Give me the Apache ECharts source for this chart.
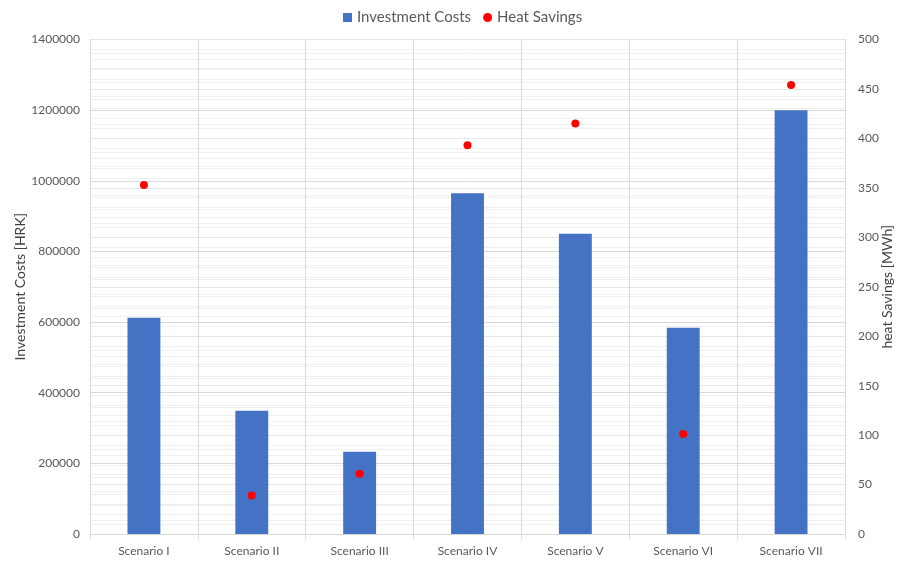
<!DOCTYPE html>
<html>
<head>
<meta charset="utf-8">
<script src="https://cdn.jsdelivr.net/npm/echarts@6/dist/echarts.min.js"></script>
<style>
  html, body { margin: 0; padding: 0; background: #fff; }
  #chart { width: 897px; height: 561px; }
</style>
</head>
<body>
<div id="chart"></div>
<script>
// Scenario categories
const scenarios = ['Scenario I', 'Scenario II', 'Scenario III', 'Scenario IV', 'Scenario V', 'Scenario VI', 'Scenario VII'];
// Investment costs per scenario [HRK]
const investmentCosts = [612000, 349000, 233000, 965000, 850000, 584000, 1200000];
// Heat savings per scenario [MWh]
const heatSavings = [353, 39, 61, 393, 415, 101, 454];

const FONT = 'Lato, "Open Sans", sans-serif';
const TEXT = '#595959';
const GRID = '#d9d9d9';
const MINOR = '#f0f0f0';

const chart = echarts.init(document.getElementById('chart'), null, { renderer: 'canvas' });

chart.setOption({
  animation: false,
  textStyle: { fontFamily: FONT },
  legend: {
    top: 5,
    left: 338,
    itemGap: 12,
    itemWidth: 9,
    itemHeight: 9,
    textStyle: { color: TEXT, fontSize: 15, fontFamily: FONT },
    data: [
      { name: 'Investment Costs', icon: 'rect' },
      { name: 'Heat Savings', icon: 'circle' }
    ]
  },
  grid: { left: 90, right: 52, top: 39.5, bottom: 27, containLabel: false, outerBoundsMode: 'none' },
  xAxis: {
    type: 'category',
    data: scenarios,
    axisLine: { show: true, lineStyle: { color: GRID } },
    axisTick: { show: true, length: 5, interval: 0, lineStyle: { color: GRID } },
    splitLine: { show: true, interval: 0, lineStyle: { color: GRID } },
    axisLabel: { color: TEXT, fontSize: 12, fontFamily: FONT, margin: 11, interval: 0 }
  },
  yAxis: [
    {
      type: 'value',
      min: 0,
      max: 1400000,
      interval: 200000,
      name: 'Investment Costs [HRK]',
      nameLocation: 'middle',
      nameGap: 63,
      nameMoveOverlap: false,
      nameTextStyle: { color: '#404040', fontSize: 14, fontFamily: FONT },
      axisLine: { show: true, lineStyle: { color: GRID } },
      axisTick: { show: false },
      axisLabel: { color: TEXT, fontSize: 12, fontFamily: FONT, margin: 10, formatter: v => String(v) },
      splitLine: { show: true, lineStyle: { color: GRID } },
      minorTick: { show: false, splitNumber: 5 },
      minorSplitLine: { show: true, lineStyle: { color: MINOR } }
    },
    {
      type: 'value',
      min: 0,
      max: 500,
      interval: 50,
      name: 'heat Savings [MWh]',
      nameLocation: 'middle',
      nameGap: 35,
      nameRotate: 90,
      nameMoveOverlap: false,
      nameTextStyle: { color: '#404040', fontSize: 14, fontFamily: FONT },
      axisLine: { show: true, lineStyle: { color: GRID } },
      axisTick: { show: false },
      axisLabel: { color: TEXT, fontSize: 12, fontFamily: FONT, margin: 13, formatter: v => String(v) },
      splitLine: { show: true, lineStyle: { color: '#e6e6e6' } },
      minorTick: { show: false, splitNumber: 5 },
      minorSplitLine: { show: true, lineStyle: { color: MINOR } }
    }
  ],
  series: [
    {
      name: 'Investment Costs',
      type: 'bar',
      yAxisIndex: 0,
      data: investmentCosts,
      barWidth: '30.5%',
      itemStyle: { color: '#4472c4' }
    },
    {
      name: 'Heat Savings',
      type: 'scatter',
      yAxisIndex: 1,
      data: heatSavings,
      symbol: 'circle',
      symbolSize: 8,
      itemStyle: { color: '#ff0000', opacity: 1 },
      z: 5
    }
  ]
});
</script>
</body>
</html>
